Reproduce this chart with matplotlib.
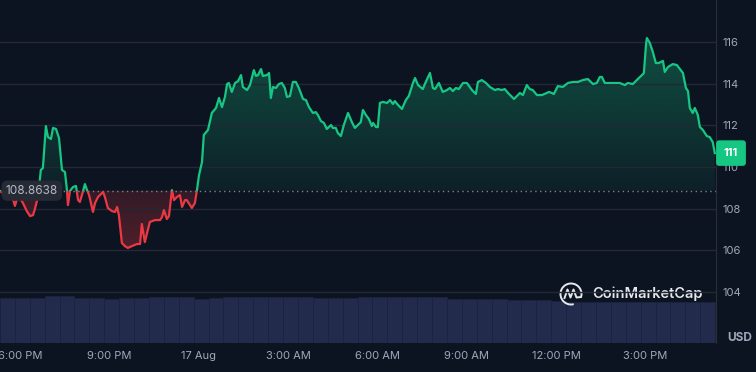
import numpy as np
import matplotlib.pyplot as plt
from matplotlib.colors import to_rgb
from matplotlib.patches import Rectangle, Arc
from matplotlib.path import Path

plt.rcParams['font.family'] = ['Inter', 'DejaVu Sans']

# price trace, hours counted from 16 Aug 00:00
hours = [17.33, 17.46, 17.60, 17.73, 17.83, 17.90, 18.00, 18.10, 18.23, 18.34, 18.44, 18.50, 18.57, 18.64,
         18.70, 18.77, 18.87, 18.94, 19.04, 19.11, 19.21, 19.31, 19.41, 19.51, 19.58, 19.61, 19.68, 19.78,
         19.88, 19.95, 20.01, 20.11, 20.18, 20.25, 20.32, 20.45, 20.52, 20.62, 20.72, 20.79, 20.85, 20.95,
         21.09, 21.19, 21.26, 21.32, 21.42, 21.52, 21.62, 21.76, 21.93, 22.03, 22.09, 22.19, 22.36, 22.53,
         22.70, 22.77, 22.83, 22.93, 23.00, 23.10, 23.17, 23.27, 23.37, 23.44, 23.54, 23.60, 23.77, 23.87,
         23.94, 24.01, 24.11, 24.17, 24.31, 24.44, 24.58, 24.68, 24.78, 24.88, 24.95, 25.01, 25.11, 25.22,
         25.32, 25.42, 25.48, 25.62, 25.72, 25.85, 25.92, 25.99, 26.09, 26.15, 26.29, 26.36, 26.42, 26.49,
         26.59, 26.69, 26.79, 26.89, 26.96, 27.06, 27.16, 27.26, 27.36, 27.50, 27.60, 27.70, 27.83, 27.93,
         28.00, 28.10, 28.20, 28.30, 28.44, 28.50, 28.60, 28.67, 28.77, 28.87, 29.01, 29.14, 29.24, 29.34,
         29.44, 29.51, 29.61, 29.71, 29.81, 29.85, 29.95, 30.01, 30.08, 30.18, 30.32, 30.42, 30.52, 30.58,
         30.69, 30.82, 30.95, 31.05, 31.19, 31.26, 31.36, 31.52, 31.62, 31.76, 31.86, 31.93, 32.06, 32.19,
         32.33, 32.43, 32.53, 32.63, 32.73, 32.87, 33.00, 33.17, 33.30, 33.37, 33.50, 33.64, 33.77, 33.94,
         34.04, 34.17, 34.27, 34.38, 34.58, 34.78, 34.88, 35.01, 35.11, 35.21, 35.35, 35.52, 35.68, 35.75,
         35.85, 35.92, 36.05, 36.22, 36.39, 36.56, 36.72, 36.89, 37.06, 37.23, 37.36, 37.46, 37.53, 37.63,
         37.80, 37.97, 38.13, 38.30, 38.40, 38.57, 38.70, 38.91, 38.94, 39.01, 39.04, 39.14, 39.24, 39.34,
         39.44, 39.58, 39.64, 39.75, 39.91, 40.05, 40.15, 40.25, 40.35, 40.42, 40.48, 40.58, 40.65, 40.75,
         40.82, 40.92, 41.05, 41.15, 41.25, 41.32]
prices = [108.85, 108.70, 108.94, 108.65, 108.13, 108.46, 108.51, 108.27, 107.88, 107.64, 107.69, 107.98,
          108.37, 108.99, 109.86, 109.95, 111.97, 111.44, 111.35, 111.88, 111.83, 111.39, 109.86, 109.76,
          108.85, 108.17, 108.85, 109.04, 109.09, 108.41, 108.32, 108.80, 109.18, 108.89, 108.65, 107.84,
          108.27, 108.56, 108.70, 108.80, 108.56, 108.03, 107.88, 107.84, 108.08, 107.69, 106.35, 106.20,
          106.11, 106.20, 106.30, 106.30, 107.26, 106.39, 107.36, 107.45, 107.45, 107.60, 107.93, 107.50,
          107.64, 108.89, 108.41, 108.56, 108.65, 108.08, 108.41, 108.41, 108.03, 108.27, 108.89, 109.62,
          110.24, 111.54, 111.78, 112.60, 112.84, 113.32, 112.88, 113.37, 113.99, 114.04, 113.61, 114.04,
          114.13, 114.42, 113.85, 113.70, 113.94, 114.66, 114.38, 114.42, 114.71, 114.38, 114.42, 114.52,
          113.32, 113.85, 113.80, 113.99, 114.04, 113.80, 113.37, 113.41, 114.09, 114.09, 113.80, 113.27,
          113.22, 112.88, 112.60, 112.64, 112.50, 112.21, 112.12, 111.83, 112.02, 111.88, 111.88, 111.63,
          111.49, 112.02, 112.60, 112.16, 111.88, 112.02, 112.16, 112.74, 112.50, 112.31, 111.97, 112.12,
          111.92, 111.92, 113.08, 113.13, 113.08, 113.22, 113.03, 113.17, 112.98, 112.79, 113.22, 113.41,
          114.04, 114.28, 113.94, 113.75, 114.09, 114.52, 113.80, 113.75, 114.04, 113.61, 113.70, 113.80,
          113.65, 113.80, 113.75, 114.04, 114.04, 113.70, 113.51, 114.09, 114.18, 114.04, 113.85, 113.70,
          113.75, 113.70, 113.75, 113.56, 113.27, 113.56, 113.46, 113.94, 113.75, 113.70, 113.46, 113.46,
          113.56, 113.61, 113.56, 113.51, 113.89, 113.85, 114.04, 114.09, 114.09, 114.18, 114.23, 113.99,
          114.04, 114.33, 114.33, 114.04, 114.04, 114.04, 114.04, 113.94, 114.04, 113.99, 114.18, 114.47,
          114.52, 115.87, 116.20, 115.96, 115.53, 115.00, 115.00, 115.10, 114.57, 114.81, 114.95, 114.90,
          114.71, 114.52, 113.80, 113.65, 112.84, 112.60, 112.84, 112.50, 111.92, 111.78, 111.49, 111.44,
          111.20, 110.67]
open_price = 108.8638

# volume in half-hour buckets (relative units)
vol_start = 17.33
volume = [45.5, 44.7, 44.7, 47.0, 47.3, 45.0, 45.0, 43.7, 45.0, 45.0, 46.0, 46.0, 46.0, 44.5, 45.0, 46.0,
          46.0, 45.7, 45.7, 45.7, 45.7, 45.5, 45.0, 45.0, 45.7, 46.0, 46.0, 46.0, 46.0, 46.0, 43.7, 43.7,
          43.7, 43.7, 42.7, 42.7, 42.7, 42.5, 41.3, 41.3, 41.3, 41.3, 41.3, 41.3, 41.3, 41.3, 41.3, 41.3]

price_ticks = [104, 106, 108, 110, 112, 114, 116]
time_ticks = [18, 21, 24, 27, 30, 33, 36, 39]
time_labels = ['6:00 PM', '9:00 PM', '17 Aug', '3:00 AM', '6:00 AM', '9:00 AM', '12:00 PM', '3:00 PM']

BG = '#0d1421'
GREEN = '#16c784'
RED = '#ea3943'
GRID = '#232835'
TXT = '#a1a7bb'

x = np.array(hours)
y = np.array(prices)
xlim = (17.33, 41.36)
ylim = (101.54, 118.03)

fig = plt.figure(figsize=(7.56, 3.72), dpi=100, facecolor=BG)
ax = fig.add_axes([0, 29 / 372, 716 / 756, 343 / 372])
vax = ax.twinx()
ax.set_zorder(vax.get_zorder() + 1)
ax.patch.set_visible(False)
vax.set_facecolor(BG)

# volume bars
vol_x = vol_start + 0.25 + 0.5 * np.arange(len(volume))
vax.bar(vol_x, volume, width=0.5, color='#222b4b', edgecolor='#1b2340', linewidth=0.6)
vax.set_ylim(0, 343)
vax.set_yticks([])
for s in vax.spines.values():
    s.set_visible(False)

# gradient fills above / below the opening price
up = ax.fill_between(x, y, open_price, where=y >= open_price, interpolate=True, facecolor='none', edgecolor='none')
dn = ax.fill_between(x, y, open_price, where=y <= open_price, interpolate=True, facecolor='none', edgecolor='none')

g = np.zeros((256, 1, 4))
g[..., :3] = to_rgb(GREEN)
g[:, 0, 3] = np.linspace(0.34, 0.07, 256)
im = ax.imshow(g, extent=[xlim[0], xlim[1], open_price, 116.4], aspect='auto', origin='upper', zorder=1)
im.set_clip_path(Path.make_compound_path(*up.get_paths()), ax.transData)

r = np.zeros((256, 1, 4))
r[..., :3] = to_rgb(RED)
r[:, 0, 3] = np.linspace(0.17, 0.3, 256)
im2 = ax.imshow(r, extent=[xlim[0], xlim[1], 106.0, open_price], aspect='auto', origin='upper', zorder=1)
im2.set_clip_path(Path.make_compound_path(*dn.get_paths()), ax.transData)

# price line, green above the open, red below
gl, = ax.plot(x, y, color=GREEN, lw=1.6, zorder=3, solid_joinstyle='round')
gl.set_clip_path(Rectangle((xlim[0], open_price), 30, 20, transform=ax.transData))
rl, = ax.plot(x, y, color=RED, lw=1.6, zorder=3, solid_joinstyle='round')
rl.set_clip_path(Rectangle((xlim[0], open_price - 20), 30, 20, transform=ax.transData))

ax.axhline(open_price, color='#7d8391', lw=1, ls=(0, (1, 2.5)), zorder=2)

ax.set_xlim(xlim)
ax.set_ylim(ylim)
ax.yaxis.tick_right()
ax.set_yticks(price_ticks)
ax.set_xticks(time_ticks, time_labels)
ax.tick_params(axis='y', length=0, pad=4.5, labelsize=8, labelcolor=TXT)
ax.tick_params(axis='x', length=0, pad=6, labelsize=8, labelcolor=TXT)
ax.grid(axis='y', color=GRID, lw=1)
for side, s in ax.spines.items():
    s.set_visible(side == 'right')
ax.spines['right'].set_color('#2a2e39')

ax.text(0.008, open_price, f'{open_price}', transform=ax.get_yaxis_transform(), ha='left', va='center',
        fontsize=8.5, color='#b5bac6', zorder=5,
        bbox=dict(boxstyle='round,pad=0.35,rounding_size=0.5', fc='#262a35', ec='none'))
ax.text(1.011, y[-1], f'{y[-1]:.0f}', transform=ax.get_yaxis_transform(), ha='left', va='center',
        fontsize=8, fontweight='bold', color='white', clip_on=False, zorder=6,
        bbox=dict(boxstyle='round,pad=0.7,rounding_size=0.3', fc=GREEN, ec='none'))
fig.text(727 / 756, 1 - 338 / 372, 'USD', ha='left', va='center', fontsize=8.5, fontweight='bold', color=TXT)

# watermark
ov = fig.add_axes([0, 0, 1, 1])
ov.set_xlim(0, 756)
ov.set_ylim(372, 0)
ov.axis('off')
ov.add_patch(Arc((571, 294), 21, 21, theta1=75, theta2=375, color='#e6e8ec', lw=1.4))
ov.plot([564.5, 567.5, 570.5, 573.5, 576.5, 581], [298, 289.5, 297.5, 289.5, 297.5, 297],
        color='#e6e8ec', lw=1.4, solid_joinstyle='round')
ov.text(592, 294, 'CoinMarketCap', ha='left', va='center', fontsize=10.5, fontweight='semibold', color='#e6e8ec')

fig.savefig('out.png', dpi=100, facecolor=BG)
